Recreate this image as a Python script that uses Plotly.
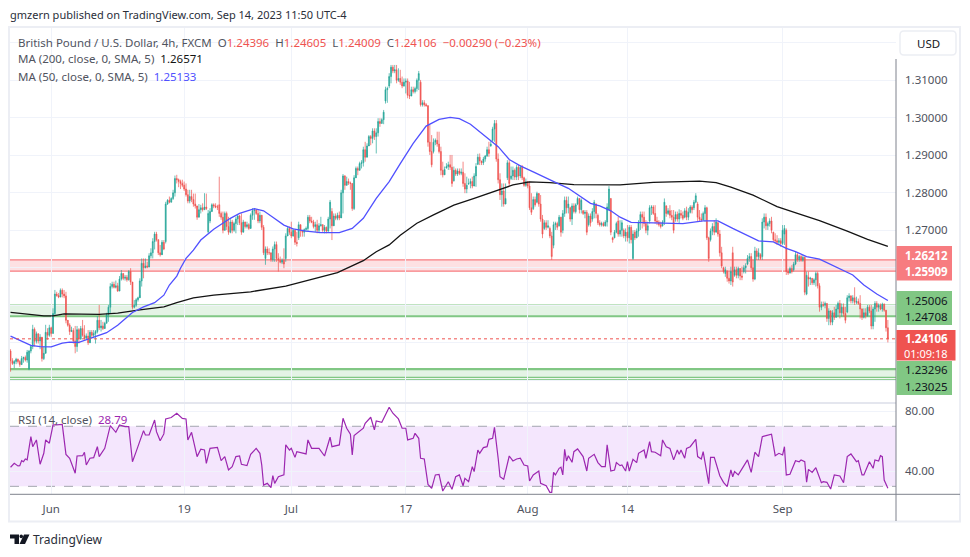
import plotly.graph_objects as go
from plotly.subplots import make_subplots

# prices are kept in 1/10000 of a dollar, one row = 10 bars of 4h candles
opens = [
    12378,12352,12345,12350,12356,12350,12342,12358,12361,12354,
    12330,12378,12390,12436,12404,12424,12405,12415,12358,12372,
    12428,12420,12440,12425,12478,12530,12526,12522,12540,12530,
    12525,12460,12447,12430,12433,12405,12390,12435,12410,12438,
    12420,12412,12418,12400,12428,12420,12425,12430,12460,12440,
    12445,12438,12452,12475,12495,12550,12556,12548,12552,12538,
    12570,12585,12572,12575,12568,12590,12562,12495,12500,12515,
    12520,12565,12612,12600,12605,12602,12632,12640,12670,12690,
    12675,12640,12635,12668,12670,12770,12780,12775,12785,12800,
    12838,12835,12830,12825,12820,12810,12795,12778,12790,12782,
    12770,12765,12735,12755,12760,12755,12762,12696,12725,12750,
    12768,12765,12762,12768,12745,12735,12700,12745,12710,12695,
    12722,12700,12718,12730,12738,12720,12695,12722,12710,12715,
    12705,12740,12752,12755,12745,12725,12740,12708,12625,12650,
    12640,12640,12622,12650,12662,12625,12620,12615,12620,12625,
    12685,12705,12695,12685,12700,12668,12680,12715,12700,12695,
    12702,12705,12735,12725,12722,12710,12715,12700,12712,12715,
    12700,12708,12698,12730,12750,12712,12738,12732,12740,12733,
    12800,12845,12820,12830,12826,12825,12758,12840,12865,12860,
    12878,12880,12915,12895,12925,12950,12945,12965,12950,12960,
    12990,12985,12995,13045,13075,13085,13110,13135,13125,13128,
    13100,13105,13095,13085,13095,13098,13060,13058,13075,13070,
    13078,13100,13095,13035,13040,13035,13032,12935,12910,12910,
    12935,12940,12930,12910,12860,12848,12866,12870,12875,12868,
    12832,12860,12850,12858,12852,12855,12825,12810,12824,12825,
    12830,12818,12845,12876,12895,12885,12880,12890,12898,12915,
    12925,12940,12970,12985,12890,12835,12795,12805,12770,12840,
    12880,12838,12845,12860,12842,12868,12845,12868,12840,12820,
    12830,12818,12760,12758,12782,12775,12798,12770,12730,12705,
    12720,12708,12705,12685,12660,12715,12718,12712,12735,12700,
    12745,12780,12760,12760,12730,12765,12750,12770,12785,12755,
    12752,12745,12748,12715,12738,12730,12750,12770,12740,12720,
    12715,12718,12712,12722,12755,12785,12680,12680,12695,12725,
    12690,12700,12700,12685,12695,12680,12708,12625,12695,12680,
    12698,12720,12742,12735,12718,12700,12725,12760,12762,12745,
    12725,12722,12715,12712,12722,12765,12745,12752,12740,12735,
    12730,12742,12730,12745,12740,12735,12752,12735,12748,12762,
    12760,12775,12770,12735,12730,12728,12745,12760,12680,12675,
    12698,12710,12695,12720,12690,12640,12600,12585,12590,12572,
    12565,12640,12580,12595,12580,12598,12578,12590,12600,12610,
    12625,12630,12600,12570,12645,12630,12635,12630,12722,12735,
    12712,12718,12725,12695,12675,12672,12668,12672,12665,12690,
    12700,12590,12586,12598,12595,12610,12635,12622,12630,12620,
    12628,12530,12575,12570,12572,12560,12568,12585,12552,12495,
    12502,12500,12505,12465,12485,12455,12480,12468,12490,12505,
    12480,12495,12478,12482,12520,12525,12512,12520,12508,12510,
    12505,12490,12468,12480,12472,12495,12485,12445,12490,12505,
    12495,12500,12490,12503,12487,12440,
]
highs = [
    12383,12359,12354,12360,12358,12354,12365,12363,12366,12381,
    12381,12394,12448,12441,12430,12425,12423,12403,12390,12448,
    12439,12448,12443,12492,12541,12536,12533,12545,12545,12541,
    12536,12458,12452,12443,12439,12445,12445,12439,12445,12461,
    12447,12425,12434,12434,12434,12434,12434,12471,12501,12461,
    12456,12456,12480,12501,12559,12563,12563,12566,12560,12578,
    12594,12585,12581,12581,12594,12599,12557,12514,12519,12523,
    12572,12625,12625,12625,12616,12639,12652,12679,12696,12696,
    12674,12661,12674,12674,12776,12783,12790,12788,12808,12846,
    12848,12838,12835,12835,12830,12825,12808,12808,12808,12798,
    12798,12760,12770,12768,12772,12799,12798,12754,12759,12772,
    12772,12772,12768,12843,12750,12750,12750,12750,12736,12732,
    12728,12723,12736,12741,12741,12745,12728,12723,12723,12719,
    12745,12759,12759,12754,12754,12750,12741,12714,12657,12657,
    12652,12639,12657,12670,12670,12639,12630,12625,12652,12692,
    12710,12710,12723,12705,12701,12696,12723,12705,12701,12705,
    12710,12741,12741,12736,12728,12723,12728,12719,12736,12714,
    12714,12710,12736,12781,12759,12745,12745,12747,12750,12808,
    12850,12847,12843,12838,12830,12825,12847,12870,12870,12883,
    12887,12923,12936,12932,12954,12954,12972,12972,12972,12999,
    12999,12999,13021,13083,13083,13119,13141,13141,13141,13141,
    13132,13128,13110,13105,13105,13105,13096,13083,13083,13083,
    13105,13125,13101,13047,13047,13039,13034,12981,12954,12945,
    12945,12963,12963,12923,12883,12870,12879,12883,12901,12901,
    12870,12865,12865,12865,12865,12883,12852,12843,12838,12838,
    12843,12852,12879,12904,12905,12883,12896,12901,12923,12936,
    12941,12976,12994,12994,12905,12852,12825,12825,12825,12887,
    12887,12870,12870,12865,12874,12874,12874,12874,12843,12838,
    12830,12830,12799,12790,12790,12803,12794,12794,12741,12727,
    12727,12727,12710,12696,12723,12723,12723,12741,12736,12754,
    12790,12790,12790,12763,12772,12772,12772,12790,12785,12785,
    12754,12754,12754,12745,12745,12759,12781,12772,12745,12727,
    12723,12723,12727,12772,12818,12785,12683,12701,12723,12736,
    12727,12727,12705,12705,12714,12714,12714,12700,12701,12705,
    12727,12750,12750,12750,12727,12723,12767,12767,12767,12767,
    12736,12727,12723,12727,12785,12767,12759,12767,12754,12754,
    12750,12750,12756,12754,12750,12759,12763,12759,12767,12767,
    12781,12799,12776,12754,12745,12750,12767,12763,12683,12705,
    12719,12727,12732,12723,12701,12656,12603,12603,12594,12590,
    12603,12656,12603,12603,12603,12599,12603,12607,12612,12634,
    12639,12639,12621,12656,12652,12652,12639,12732,12745,12745,
    12723,12732,12736,12696,12692,12687,12679,12679,12714,12714,
    12705,12598,12603,12607,12616,12643,12639,12634,12634,12634,
    12630,12590,12590,12576,12572,12572,12590,12590,12559,12510,
    12510,12510,12505,12492,12487,12487,12496,12501,12510,12514,
    12505,12505,12496,12527,12532,12527,12527,12548,12523,12518,
    12527,12492,12492,12492,12501,12501,12501,12496,12511,12511,
    12505,12505,12507,12505,12487,12461,
]
lows = [
    12323,12341,12332,12343,12345,12336,12341,12347,12350,12347,
    12327,12372,12383,12390,12398,12398,12383,12350,12354,12390,
    12408,12416,12416,12425,12474,12523,12519,12523,12521,12519,
    12452,12443,12421,12430,12398,12372,12376,12398,12408,12416,
    12408,12408,12394,12418,12412,12412,12398,12425,12434,12430,
    12434,12443,12452,12456,12479,12545,12545,12545,12536,12541,
    12566,12567,12566,12563,12566,12554,12489,12492,12496,12510,
    12527,12550,12572,12599,12599,12603,12625,12625,12649,12670,
    12634,12630,12639,12647,12665,12768,12772,12776,12781,12790,
    12825,12815,12810,12815,12805,12790,12772,12772,12775,12763,
    12758,12728,12745,12745,12750,12755,12754,12692,12719,12754,
    12759,12759,12754,12736,12728,12692,12701,12701,12688,12692,
    12692,12696,12692,12714,12714,12688,12705,12705,12705,12701,
    12714,12728,12728,12741,12719,12719,12701,12634,12608,12634,
    12634,12616,12616,12616,12616,12590,12612,12610,12599,12616,
    12688,12688,12679,12683,12661,12657,12674,12683,12683,12683,
    12696,12696,12719,12719,12705,12696,12692,12692,12710,12696,
    12692,12692,12696,12705,12674,12727,12727,12727,12727,12741,
    12745,12808,12821,12821,12808,12752,12754,12843,12847,12865,
    12865,12870,12883,12914,12927,12927,12932,12941,12905,12950,
    12976,12985,12983,13038,13040,13079,13092,13119,13119,13092,
    13096,13088,13079,13083,13065,13052,13050,13065,13065,13065,
    13070,13074,13030,13030,13030,13030,12923,12901,12868,12905,
    12927,12923,12905,12847,12841,12852,12865,12861,12861,12816,
    12830,12845,12845,12847,12847,12816,12799,12799,12821,12812,
    12812,12821,12816,12874,12874,12874,12874,12883,12896,12896,
    12923,12936,12936,12883,12825,12781,12763,12763,12781,12834,
    12816,12834,12834,12834,12834,12834,12839,12834,12816,12816,
    12812,12754,12741,12754,12763,12772,12763,12723,12679,12701,
    12701,12705,12679,12621,12652,12701,12701,12710,12683,12692,
    12736,12745,12745,12723,12714,12745,12745,12767,12745,12745,
    12741,12732,12687,12710,12710,12723,12732,12732,12714,12710,
    12710,12710,12710,12710,12754,12687,12667,12679,12692,12683,
    12683,12683,12679,12670,12670,12665,12665,12621,12674,12679,
    12683,12701,12705,12710,12692,12687,12718,12741,12741,12718,
    12714,12710,12705,12710,12714,12736,12741,12732,12727,12692,
    12723,12723,12719,12732,12727,12732,12727,12727,12745,12745,
    12754,12772,12723,12723,12723,12727,12723,12674,12616,12670,
    12687,12687,12701,12683,12630,12599,12585,12576,12563,12558,
    12554,12550,12576,12572,12572,12567,12567,12585,12585,12607,
    12616,12594,12563,12567,12621,12621,12621,12621,12705,12701,
    12701,12710,12692,12670,12665,12661,12661,12656,12661,12661,
    12581,12581,12585,12585,12590,12607,12616,12616,12616,12616,
    12527,12527,12550,12554,12554,12554,12550,12545,12483,12487,
    12496,12492,12456,12447,12447,12447,12461,12470,12470,12465,
    12470,12470,12452,12479,12510,12505,12505,12501,12503,12501,
    12465,12461,12465,12465,12470,12479,12436,12436,12456,12483,
    12483,12487,12483,12483,12430,12401,
]
closes = [
    12352,12345,12350,12356,12350,12342,12358,12361,12354,12375,
    12378,12390,12436,12404,12424,12405,12415,12358,12372,12428,
    12420,12440,12425,12478,12530,12526,12522,12540,12530,12525,
    12460,12447,12430,12433,12405,12390,12435,12410,12438,12420,
    12412,12418,12400,12428,12420,12425,12430,12460,12440,12445,
    12438,12452,12475,12495,12550,12556,12548,12552,12538,12570,
    12585,12572,12575,12568,12590,12562,12495,12500,12515,12520,
    12565,12612,12600,12605,12602,12632,12640,12670,12690,12675,
    12640,12635,12668,12650,12770,12780,12775,12785,12800,12838,
    12835,12830,12825,12820,12810,12795,12778,12790,12782,12770,
    12765,12735,12755,12760,12755,12762,12758,12745,12750,12768,
    12765,12762,12762,12745,12735,12700,12745,12710,12695,12722,
    12700,12718,12730,12738,12720,12695,12722,12710,12715,12705,
    12740,12752,12755,12745,12725,12740,12708,12640,12650,12640,
    12640,12622,12650,12662,12625,12620,12615,12620,12610,12685,
    12705,12695,12685,12700,12668,12665,12715,12700,12695,12702,
    12705,12735,12725,12722,12710,12715,12700,12712,12715,12700,
    12708,12698,12730,12775,12712,12738,12732,12740,12733,12800,
    12845,12820,12830,12826,12825,12758,12840,12865,12860,12878,
    12880,12915,12895,12925,12950,12945,12965,12950,12960,12990,
    12985,12995,13015,13075,13078,13110,13135,13125,13128,13100,
    13105,13095,13085,13095,13098,13060,13058,13075,13070,13078,
    13100,13118,13035,13040,13035,13032,12935,12910,12875,12935,
    12940,12930,12910,12860,12848,12862,12870,12875,12868,12825,
    12860,12850,12858,12852,12855,12825,12810,12820,12825,12830,
    12818,12845,12870,12895,12885,12880,12890,12898,12915,12905,
    12930,12970,12985,12890,12835,12795,12805,12770,12785,12880,
    12825,12845,12860,12842,12868,12845,12868,12840,12820,12830,
    12818,12760,12748,12782,12768,12798,12770,12730,12690,12720,
    12708,12712,12685,12630,12715,12718,12708,12735,12695,12745,
    12780,12760,12770,12730,12765,12750,12768,12785,12755,12780,
    12745,12748,12695,12738,12720,12750,12775,12745,12720,12715,
    12718,12712,12722,12762,12810,12695,12675,12695,12718,12690,
    12700,12720,12685,12695,12680,12708,12675,12690,12680,12698,
    12720,12742,12735,12718,12700,12712,12760,12762,12745,12725,
    12722,12715,12710,12722,12775,12745,12752,12740,12735,12700,
    12742,12730,12745,12740,12732,12752,12735,12748,12762,12755,
    12775,12792,12735,12730,12728,12745,12760,12680,12625,12698,
    12710,12695,12722,12690,12640,12605,12590,12595,12572,12565,
    12590,12562,12595,12580,12598,12578,12575,12600,12605,12625,
    12630,12600,12570,12645,12630,12640,12625,12722,12735,12712,
    12718,12725,12700,12675,12672,12668,12672,12665,12700,12705,
    12590,12586,12598,12590,12610,12635,12622,12630,12620,12628,
    12535,12580,12570,12572,12560,12568,12585,12552,12495,12502,
    12500,12505,12465,12485,12455,12480,12468,12490,12505,12480,
    12495,12478,12460,12520,12525,12512,12520,12508,12510,12505,
    12490,12468,12480,12472,12495,12485,12445,12490,12505,12495,
    12500,12490,12503,12487,12440,12411,
]

# moving averages, read at bar numbers along the curve
ma50_bars = [0,5,11,16,22,28,32,37,42,48,52,58,66,72,78,83,86,90,92,95,99,103,110,119,124,132,137,142,148,153,160,168,
             178,185,191,198,205,211,218,225,232,238,243,249,254,260,264,270,276,283,291,297,302,310,314,319,325,330,
             336,348,364,375,383,391,405,413,420,425,431,438,447,456,462,469,475]
ma50_vals = [12418,12406,12393,12390,12389,12399,12402,12401,12410,12420,12427,12447,12481,12496,12507,12527,12554,12578,12599,12625,12647,12674,12703,12732,12745,12758,12752,12735,12714,12704,12698,12694,
             12694,12705,12732,12785,12830,12878,12932,12978,12996,13001,12998,12983,12963,12939,12923,12889,12872,12856,12836,12823,12812,12785,12772,12765,12752,12735,
             12721,12720,12718,12725,12725,12705,12672,12669,12652,12643,12630,12623,12603,12581,12554,12530,12513]
ma200_bars = [0,9,18,23,29,48,58,70,83,90,99,110,130,149,160,168,177,184,191,198,205,211,220,229,240,251,261,272,281,292,305,317,330,
              348,373,382,390,402,415,426,438,453,464,475]
ma200_vals = [12481,12477,12472,12472,12477,12476,12479,12488,12496,12507,12520,12527,12536,12551,12565,12574,12587,12603,12619,12643,12661,12687,12719,12741,12767,12785,12803,12821,12829,12827,12822,12822,12821,
              12828,12831,12827,12815,12794,12763,12745,12726,12698,12676,12657]

rsi_bars = [0,2,4,5,6,7,8,9,11,12,14,16,18,19,21,23,25,28,30,32,35,36,39,40,41,43,45,47,48,51,54,57,59,62,64,66,68,72,73,75,78,79,81,83,84,87,90,93,95,96,98,
            101,103,105,106,108,112,114,116,118,120,122,124,125,128,130,133,135,136,137,139,141,142,143,145,148,149,151,152,154,155,158,160,161,163,167,170,173,174,178,180,182,184,185,186,191,192,195,197,198,
            201,205,207,210,212,214,215,218,219,221,222,224,226,228,230,232,234,237,239,241,243,245,246,248,250,251,253,254,256,258,259,261,262,264,265,267,270,272,274,276,278,280,281,283,286,287,290,292,293,294,295,297,298,299,
            300,301,302,304,305,307,310,312,313,316,318,320,322,323,325,327,328,330,331,333,334,335,337,339,340,343,344,346,347,349,352,353,355,357,359,361,362,363,365,366,368,371,372,374,375,378,379,381,384,386,388,390,391,392,394,396,399,
            401,403,405,407,412,413,414,416,418,419,420,422,425,427,428,430,431,432,434,436,437,439,440,442,444,446,449,451,453,455,458,459,461,462,465,467,468,470,471,472,473,475]
rsi_vals = [42.7,45.3,43.6,43.8,47.1,46.4,48.2,47.6,63.1,56.4,60.9,44.7,52,60.9,58.7,70.9,70.9,71.3,51.3,48.7,38.7,50.2,50.4,52.7,44.2,48.7,49.1,56.4,49.8,55.3,70.4,66,70.9,69.8,69.8,46.4,53.1,67.1,64.2,64.2,74.2,66.4,60.4,64.9,74.9,75.8,78.7,75.3,74.9,60.9,66,
            49.8,54.7,54.2,45.3,55.3,56,47.1,49.8,40.9,43.1,49.8,50.2,44.7,43.8,51.3,55.3,52,44.2,30.9,32,29.1,37.1,32,36.4,37.6,57.6,54.2,55.3,49.3,53.1,52,51.6,60.9,55.3,55.3,50.2,62.7,56.4,57.6,75.3,68.7,64.7,50.9,63.8,68.7,72,76,67.6,73.6,
            72.7,82.7,78.7,74.9,68.7,68.7,60.9,62,65.3,62,48.7,48.2,31.3,28.7,37.6,38,26.9,33.1,28,36.4,37.6,30.4,35.3,33.1,43.1,39.8,54.2,52,55.8,56.4,61.3,62,69.3,48.7,36.4,34.7,50.2,46.9,48.2,48.7,44.2,43.6,33.6,37.6,40.2,32,30.4,26,26,39.3,37.6,42,42.7,37.6,
            54.7,46.9,50.4,46,53.1,54.9,49.8,40.2,48.7,51.3,45.8,43.1,43.1,57.6,40.2,40.9,45.8,43.8,44.2,40.2,46.4,40.2,48,45.8,52,54.2,48.7,59.8,53.1,52.7,50.4,60.9,56.4,55.3,47.6,54.2,51.3,54.2,48.7,55.3,56.4,61.3,49.8,48.2,53.1,31.8,49.3,49.3,37.1,32.7,29.8,40.9,36.4,39.8,37.6,41.6,47.6,
            39.3,52.7,49.8,63.1,64.7,57.1,50.4,52,50.9,56.4,37.6,38,47.1,46.4,47.6,46.4,32.7,41.3,39.3,42.4,39.3,32.4,33.1,32.7,28.2,37.6,36.9,32.4,49.8,51.6,46.4,47.1,37.6,37.6,46.4,42,47.6,46.9,50.4,49.8,34.2,28.79]

tick_bars = [22, 94, 152, 214, 280, 334, 418]
tick_labels = ["Jun", "19", "Jul", "17", "Aug", "14", "Sep"]
price_ticks = [1.32, 1.31, 1.30, 1.29, 1.28, 1.27, 1.26, 1.25, 1.24, 1.23]
price_tick_text = ["", "1.31000", "1.30000", "1.29000", "1.28000", "1.27000", "", "", "", ""]
red_zone = [1.26212, 1.25909]
green_zone_top = [1.25006, 1.24708]
green_zone_low = [1.23296, 1.2308]
green_low_line = 1.23025
last_price = 1.24106

UP = "#26a69a"
DOWN = "#ef5350"
FONT = "Noto Sans"
GREY = "#50535e"
WHITE_W, WHITE_H = 970, 557


def px(x):
    return x / WHITE_W


def py(y):
    return 1 - y / WHITE_H


def pips(vals):
    return [v / 10000 for v in vals]


bars = list(range(len(closes)))

fig = make_subplots(rows=2, cols=1, shared_xaxes=True, vertical_spacing=0)

fig.add_trace(go.Candlestick(
    x=bars, open=pips(opens), high=pips(highs), low=pips(lows), close=pips(closes),
    increasing=dict(line=dict(color=UP, width=0.7), fillcolor=UP),
    decreasing=dict(line=dict(color=DOWN, width=0.7), fillcolor=DOWN),
    whiskerwidth=0, showlegend=False,
), row=1, col=1)
fig.add_trace(go.Scatter(x=ma200_bars, y=pips(ma200_vals), mode="lines", line=dict(color="#131313", width=1.3), showlegend=False), row=1, col=1)
fig.add_trace(go.Scatter(x=ma50_bars, y=pips(ma50_vals), mode="lines", line=dict(color="#5050ff", width=1.3), showlegend=False), row=1, col=1)
fig.add_trace(go.Scatter(x=rsi_bars, y=rsi_vals, mode="lines", line=dict(color="#9c27b0", width=1.2), showlegend=False), row=2, col=1)


def zone(levels, line_col, fill_col, wide=None):
    fig.add_shape(type="rect", xref="x domain", x0=0, x1=1, yref="y", y0=levels[1], y1=levels[0],
                  fillcolor=fill_col, line_width=0, layer="below")
    for i, lv in enumerate(levels):
        w = 2.2 if wide == i else 1.2
        fig.add_shape(type="line", xref="x domain", x0=0, x1=1, yref="y", y0=lv, y1=lv,
                      line=dict(color=line_col, width=w), layer="below")


zone(red_zone, "#f77c80", "rgba(242,54,69,0.15)")
zone(green_zone_top, "#81c784", "rgba(76,175,80,0.15)", wide=1)
zone(green_zone_low, "#81c784", "rgba(76,175,80,0.15)", wide=0)
fig.add_shape(type="line", xref="x domain", x0=0, x1=1, yref="y", y0=green_low_line, y1=green_low_line,
              line=dict(color="#81c784", width=1), layer="below")
fig.add_shape(type="line", xref="x domain", x0=0, x1=1, yref="y", y0=last_price, y1=last_price,
              line=dict(color=DOWN, width=1, dash="dot"))

# RSI band
fig.add_shape(type="rect", xref="x domain", x0=0, x1=1, yref="y2", y0=30, y1=70,
              fillcolor="rgba(180,80,240,0.14)", line_width=0, layer="below")
for lv in [70, 30]:
    fig.add_shape(type="line", xref="x domain", x0=0, x1=1, yref="y2", y0=lv, y1=lv,
                  line=dict(color="#a3a6af", width=1, dash="dash"), layer="below")


def paper_line(x0, y0, x1, y1, col, w):
    fig.add_shape(type="line", xref="paper", yref="paper", x0=px(x0), y0=py(y0), x1=px(x1), y1=py(y1),
                  line=dict(color=col, width=w))


def paper_box(x0, y0, x1, y1, col):
    fig.add_shape(type="rect", xref="paper", yref="paper", x0=px(x0), y0=py(y0), x1=px(x1), y1=py(y1),
                  fillcolor=col, line_width=0)


def note(x, y, text, size=11.5, col=GREY, anchor="left"):
    # annotations carry about 2px of padding on the left
    fig.add_annotation(xref="paper", yref="paper", x=px(x - 2 if anchor == "left" else x), y=py(y), text=text,
                       showarrow=False, xanchor=anchor, yanchor="middle", align="left",
                       font=dict(family=FONT, size=size, color=col))


# frame and pane separators
fig.add_shape(type="rect", xref="paper", yref="paper", x0=px(9), y0=py(27), x1=px(960), y1=py(521.5),
              line=dict(color="#eceef4", width=2))
paper_line(10, 403, 896, 403, "#e4e6ee", 2)
paper_line(10, 494.3, 960, 494.3, "#7f828d", 1)
paper_line(896, 59, 896, 521, "#7f828d", 1)

# price labels on the scale
paper_box(896.5, 246, 952, 280.5, "#f77c80")
paper_box(896.5, 291, 952, 325, "#81c784")
paper_box(896.5, 361, 952, 395, "#81c784")
paper_box(896.5, 330, 955.5, 360.5, DOWN)
note(905, 255, "<b>1.26212</b>", col="#ffffff")
note(905, 271.5, "<b>1.25909</b>", col="#ffffff")
note(905, 300, "1.25006", col="#131722")
note(905, 316.5, "1.24708", col="#131722")
note(905, 338, "<b>1.24106</b>", col="#ffffff")
note(904, 353, "01:09:18", size=11, col="#ffffff")
note(905, 369, "1.23296", col="#131722")
note(905, 386.5, "1.23025", col="#131722")

# currency button
fig.add_shape(type="path", xref="paper", yref="paper", line=dict(color="#eceef3", width=1.5),
              path=f"M {px(904)} {py(31)} L {px(952)} {py(31)} Q {px(956)} {py(31)} {px(956)} {py(35)} "
                   f"L {px(956)} {py(51)} Q {px(956)} {py(55)} {px(952)} {py(55)} L {px(904)} {py(55)} "
                   f"Q {px(900)} {py(55)} {px(900)} {py(51)} L {px(900)} {py(35)} Q {px(900)} {py(31)} {px(904)} {py(31)} Z")
note(928, 43, "USD", size=11.5, col="#131722", anchor="center")

# legends
note(10, 15, "gmzern published on TradingView.com, Sep 14, 2023 11:50 UTC-4", size=11, col="#2a2e39")
RED = f'<span style="color:{DOWN}">'
note(18, 42, f"British Pound / U.S. Dollar, 4h, FXCM  O{RED}1.24396</span>  H{RED}1.24605</span>  "
             f"L{RED}1.24009</span>  C{RED}1.24106</span>  {RED}−0.00290 (−0.23%)</span>")
note(18, 59, 'MA (200, close, 0, SMA, 5)  <span style="color:#131313">1.26571</span>')
note(18, 76, 'MA (50, close, 0, SMA, 5)  <span style="color:#5050ff">1.25133</span>')
note(18, 419, 'RSI (14, close)  <span style="color:#9c27b0">28.79</span>')
note(33, 539, "TradingView", size=12, col="#2a2e39")

# logo
fig.add_shape(type="path", xref="paper", yref="paper", fillcolor="#131722", line_width=0,
              path=f"M {px(10)} {py(534.5)} L {px(19)} {py(534.5)} L {px(19)} {py(544)} L {px(14.5)} {py(544)} "
                   f"L {px(14.5)} {py(538.5)} L {px(10)} {py(538.5)} Z")
fig.add_shape(type="circle", xref="paper", yref="paper", fillcolor="#131722", line_width=0,
              x0=px(19.5), x1=px(23), y0=py(538.2), y1=py(534.6))
fig.add_shape(type="path", xref="paper", yref="paper", fillcolor="#131722", line_width=0,
              path=f"M {px(24)} {py(534.5)} L {px(29.5)} {py(534.5)} L {px(25)} {py(544)} L {px(19.5)} {py(544)} Z")

fig.update_layout(
    width=WHITE_W, height=WHITE_H,
    margin=dict(l=0, r=0, t=0, b=0),
    paper_bgcolor="#ffffff", plot_bgcolor="#ffffff",
    showlegend=False,
    font=dict(family=FONT, size=11.5, color=GREY),
)
fig.update_xaxes(
    domain=[px(10), px(896)], range=[-0.3, 479.4],
    tickmode="array", tickvals=tick_bars, ticktext=tick_labels,
    showgrid=True, gridcolor="#f0f3fa", gridwidth=1, zeroline=False, showline=False,
    rangeslider_visible=False, ticks="",
)
fig.update_xaxes(ticklabelstandoff=6, tickfont=dict(family=FONT, size=11.5, color=GREY), row=2, col=1)
fig.update_yaxes(
    domain=[py(403), py(28)], range=[1.22395, 1.32395], side="right",
    tickmode="array", tickvals=price_ticks, ticktext=price_tick_text,
    showgrid=True, gridcolor="#f0f3fa", zeroline=False, ticks="", ticklabelstandoff=8,
    tickfont=dict(family=FONT, size=11.5, color=GREY), row=1, col=1,
)
fig.update_yaxes(
    domain=[py(494.3), py(403)], range=[24.7, 85.5], side="right",
    tickmode="array", tickvals=[80, 40], ticktext=["80.00", "40.00"],
    showgrid=True, gridcolor="#f0f3fa", zeroline=False, ticks="", ticklabelstandoff=8,
    tickfont=dict(family=FONT, size=11.5, color=GREY), row=2, col=1,
)

fig.write_html("out.html", config={"displayModeBar": False}, post_script="document.body.style.margin='0';")
